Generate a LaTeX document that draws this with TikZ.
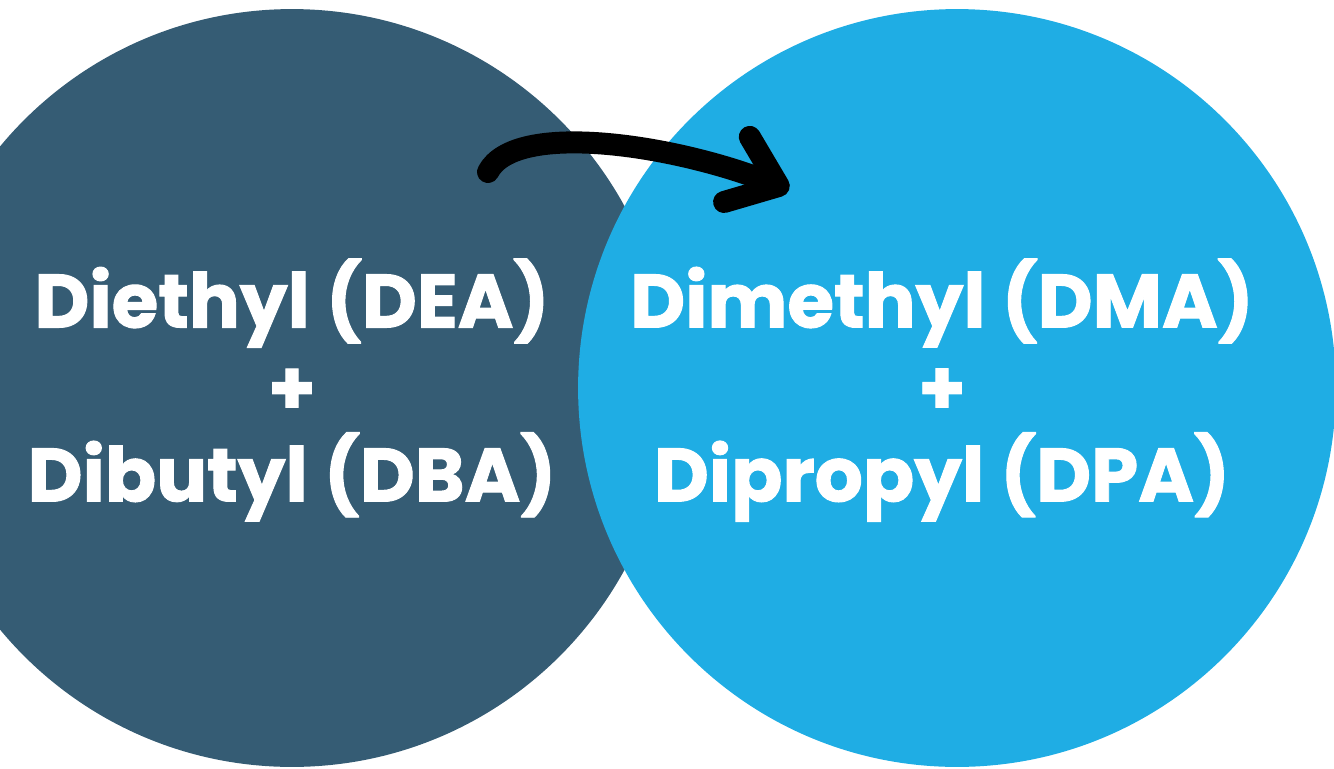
\documentclass[tikz,border=0pt]{standalone}
\usepackage{fontspec}
\setmainfont{Poppins}[BoldFeatures={FakeBold=1.3}]
\usepackage{tikz}
\usetikzlibrary{arrows.meta, positioning}
\definecolor{darkslate}{HTML}{355C74}
\definecolor{skyblue}{HTML}{1FADE4}

\begin{document}
\begin{tikzpicture}[x=0.02cm, y=-0.02cm,
	blob/.style={circle, minimum size=15.16cm, inner sep=0pt},
	label text/.style={text=white, align=center, font=\bfseries\fontsize{43}{49.5}\selectfont},
	swoosh/.style={line width=0.44cm, line cap=round, -{Straight Barb[length=0.9cm, width=1.4cm, round]}}]

\def \xw{1334}
\def \xh{768}

\clip (0,0) rectangle (\xw, \xh); % page

\node[blob, fill=darkslate] (old) at (292, 388) {}; % left circle
\node[blob, fill=skyblue]   (new) at (957, 388) {}; % right circle

\node[label text] (old text) at (292, 390) {Diethyl (DEA)\\+\\Dibutyl (DBA)};
\node[label text] (new text) at (942, 390) {Dimethyl (DMA)\\+\\Dipropyl (DPA)};

\coordinate (arrow start) at (488, 172);
\coordinate (arrow end)   at (789, 190);
\draw[swoosh] (arrow start) .. controls (515, 120) and (675, 145) .. (arrow end);

\end{tikzpicture}
\end{document}
